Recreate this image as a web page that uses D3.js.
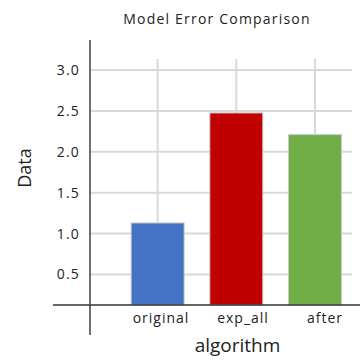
<!DOCTYPE html>
<html><head><meta charset="utf-8">
<script src="https://cdn.jsdelivr.net/npm/d3@7"></script>
<style>body{margin:0;background:#fff}</style>
</head><body>
<svg id="c" width="364" height="364"></svg>
<script>
const categories = ["original", "exp_all", "after"];
const values = [1.13, 2.475, 2.21];
const colors = ["#4472C4", "#C00000", "#70AD47"];
const yTicks = [0.5, 1.0, 1.5, 2.0, 2.5, 3.0];
const title = "Model Error Comparison";
const xTitle = "algorithm";
const yTitle = "Data";

const svg = d3.select("#c");
const font = "'Open Sans', 'Noto Sans', sans-serif";

const x = d3.scaleBand().domain(categories).range([118.3, 354.3]).paddingInner(0.327).paddingOuter(0.1635);
const y = d3.scaleLinear().domain([0, 0.5, 3.0]).range([305, 274.5, 70]);
const labelX = d3.scalePoint().domain(categories).range([161, 325]);

// horizontal gridlines
svg.append("g").selectAll("line").data(yTicks).join("line")
  .attr("x1", 90).attr("x2", 352)
  .attr("y1", d => y(d)).attr("y2", d => y(d))
  .attr("stroke", "#d9d9d9").attr("stroke-width", 2);

// vertical gridlines
svg.append("g").selectAll("line").data(categories).join("line")
  .attr("x1", d => x(d) + x.bandwidth() / 2).attr("x2", d => x(d) + x.bandwidth() / 2)
  .attr("y1", 59).attr("y2", y(0))
  .attr("stroke", "#d9d9d9").attr("stroke-width", 2);

// bars
svg.append("g").selectAll("rect").data(values).join("rect")
  .attr("x", (d, i) => x(categories[i]))
  .attr("width", x.bandwidth())
  .attr("y", d => y(d))
  .attr("height", d => y(0) - y(d))
  .attr("fill", (d, i) => colors[i])
  .attr("stroke", "#c8c8c8").attr("stroke-width", 1);

// axes lines
svg.append("line").attr("x1", 53).attr("x2", 360).attr("y1", y(0)).attr("y2", y(0))
  .attr("stroke", "#333").attr("stroke-width", 1.5);
svg.append("line").attr("x1", 90).attr("x2", 90).attr("y1", 40).attr("y2", 335)
  .attr("stroke", "#404040").attr("stroke-width", 1.5);

// y tick labels
svg.append("g").selectAll("text").data(yTicks).join("text")
  .attr("x", 80).attr("y", d => y(d)).attr("dy", "0.35em")
  .attr("text-anchor", "end")
  .attr("font-family", font).attr("font-size", 14).attr("fill", "#222")
  .attr("letter-spacing", 1.2)
  .text(d => d3.format(".1f")(d));

// x tick labels
svg.append("g").selectAll("text").data(categories).join("text")
  .attr("x", d => labelX(d)).attr("y", 323)
  .attr("text-anchor", "middle")
  .attr("font-family", font).attr("font-size", 14).attr("fill", "#222")
  .attr("letter-spacing", 1)
  .text(d => d);

// titles
svg.append("text").attr("x", 217).attr("y", 24).attr("text-anchor", "middle")
  .attr("font-family", font).attr("font-size", 14).attr("fill", "#222")
  .attr("letter-spacing", 1.2)
  .text(title);
svg.append("text").attr("x", 237.5).attr("y", 352).attr("text-anchor", "middle")
  .attr("font-family", font).attr("font-size", 19).attr("fill", "#222")
  .text(xTitle);
svg.append("text").attr("transform", "translate(31,168) rotate(-90)").attr("text-anchor", "middle")
  .attr("font-family", font).attr("font-size", 18).attr("fill", "#222")
  .text(yTitle);
</script>
</body></html>
